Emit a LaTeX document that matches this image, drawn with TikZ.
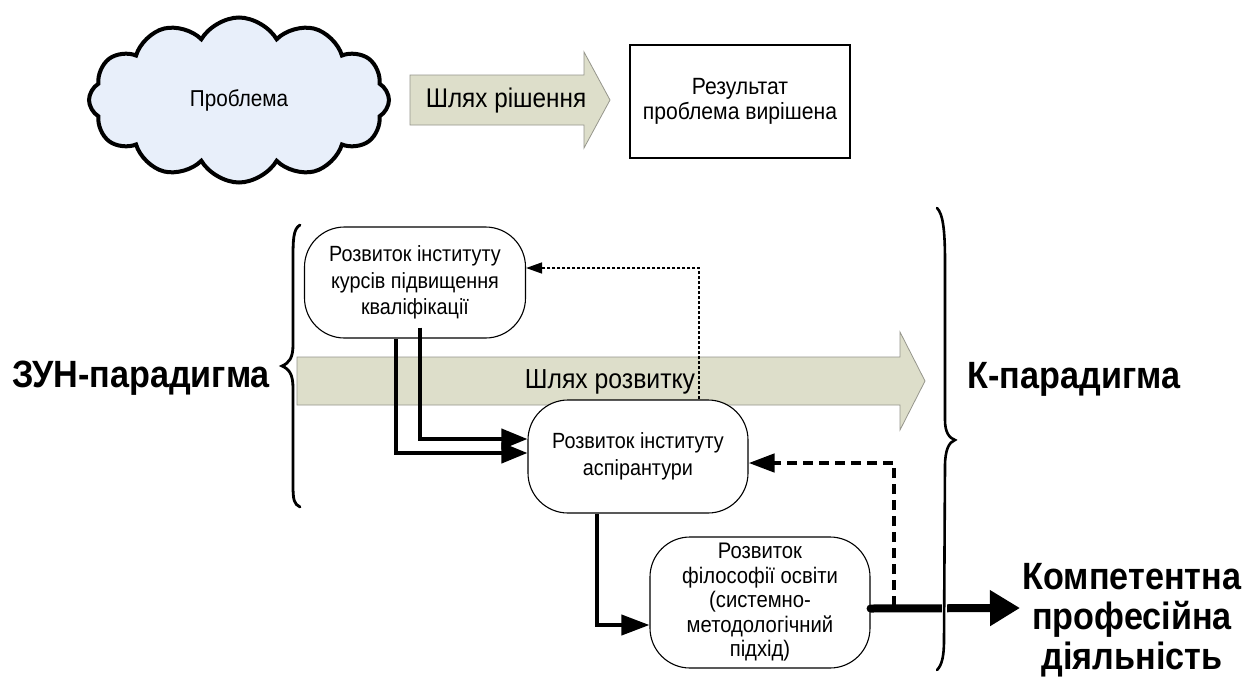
\documentclass[tikz,border=0pt]{standalone}
\usepackage{fontspec}
\setmainfont[FakeStretch=0.9]{Liberation Sans}
\usetikzlibrary{shapes.symbols,arrows.meta,calc}
\definecolor{arrowfill}{RGB}{221,222,202}
\definecolor{cloudfill}{RGB}{232,239,250}
\definecolor{arrowline}{RGB}{150,150,140}
\tikzset{
  body/.style={font=\fontsize{22}{25.5}\selectfont, align=center},
  rbox/.style={body, draw, line width=1.1pt, fill=white, rounded corners=40pt, inner sep=0pt},
  bigarrow/.style={fill=arrowfill, draw=arrowline, line width=0.8pt},
  bold label/.style={font=\fontsize{38}{40}\selectfont\bfseries, align=center},
  thickconn/.style={line width=4pt, -{Triangle[length=26pt,width=20pt]}},
  dotconn/.style={line width=1.5pt, dash pattern=on 3pt off 2pt, -{Triangle[length=16pt,width=11pt]}},
  dashconn/.style={line width=4.5pt, dash pattern=on 10pt off 6pt, -{Triangle[length=26pt,width=18pt]}},
  brace/.style={line width=2.8pt, line cap=round},
}
\begin{document}
\begin{tikzpicture}[x=1pt,y=-1pt]
\useasboundingbox[fill=white] (0,0) rectangle (1248,681);

% top row
\node[cloud, cloud puffs=12, cloud puff arc=120, aspect=1.78, draw, line width=4pt, fill=cloudfill,
      minimum width=300, minimum height=165, inner sep=0pt, body, font=\fontsize{23}{26}\selectfont] (prob) at (239,100) {Проблема};
\draw[bigarrow] (410,75) -- (584,75) -- (584,52) -- (610,100) -- (584,148) -- (584,125) -- (410,125) -- cycle;
\node[font=\fontsize{27}{30}\selectfont] (path1) at (506,101) {Шлях рішення};
\node[body, font=\fontsize{23.5}{25.5}\selectfont, draw, line width=1.1pt, minimum width=220, minimum height=113, inner sep=0pt] (res) at (740,101.5) {Результат\\проблема вирішена};

% big arrow
\draw[bigarrow] (297,357) -- (900,357) -- (900,332) -- (925,381) -- (900,430) -- (900,405) -- (297,405) -- cycle;
\node[font=\fontsize{27.5}{30}\selectfont] (path2) at (610,382) {Шлях розвитку};

% left brace
\draw[brace] (300,225) .. controls (293,229) and (293,240) .. (293,262) -- (293,345)
   .. controls (293,358) and (289,363) .. (282,366) .. controls (289,369) and (293,374) .. (293,388)
   -- (293,485) .. controls (293,500) and (294,504) .. (300,507);

% nodes
\node[rbox, minimum width=221, minimum height=111, font=\fontsize{22}{26.5}\selectfont] (A) at (415,282.5) {Розвиток інституту\\курсів підвищення\\кваліфікації};
\node[rbox, minimum width=220, minimum height=113, font=\fontsize{22}{26.5}\selectfont] (B) at (638,456.5) {Розвиток інституту\\аспірантури};
\node[rbox, minimum width=220, minimum height=131, font=\fontsize{22.5}{24.5}\selectfont] (C) at (760,602.5) {Розвиток\\філософії освіти\\(системно-\\методологічний\\підхід)};

% labels
\node[bold label] (zun) at (141,378) {ЗУН-парадигма};
\node[bold label] (kp) at (1074,379) {К-парадигма};
\node[bold label] (kpd) at (1132,620) {Компетентна\\професійна\\діяльність};

% connectors
\draw[thickconn] ([xshift=-19pt]A.south) |- ([yshift=3.5pt]B.west);
\draw[thickconn] ([xshift=5pt,yshift=11pt]A.south) |- ([yshift=17.5pt]B.west);
\draw[dotconn] ([xshift=61pt]B.north) |- ([yshift=14.5pt]A.east);
\draw[thickconn, -{Triangle[length=28pt,width=20pt]}] ([xshift=-41pt]B.south) |- ([yshift=-22.5pt]C.west);

\coordinate (kend) at (1020,608);
\coordinate (dj) at (894,606);
\draw[line width=8pt, line cap=round, -{Triangle[length=30pt,width=34pt]}] ([yshift=-6pt]C.east) -- (kend);
\draw[dashconn] (dj) |- ([yshift=-6.5pt]B.east);

% right brace
\draw[white, line width=5pt] (944,595) -- (944,621);
\draw[brace, line width=2.6pt] (937,208) .. controls (943,214) and (945,230) .. (945,262) -- (945,420)
   .. controls (945,432) and (949,438) .. (955,440) .. controls (949,442) and (945,450) .. (945,466)
   -- (944,640) .. controls (944,656) and (942,665) .. (937,670);
\end{tikzpicture}
\end{document}
